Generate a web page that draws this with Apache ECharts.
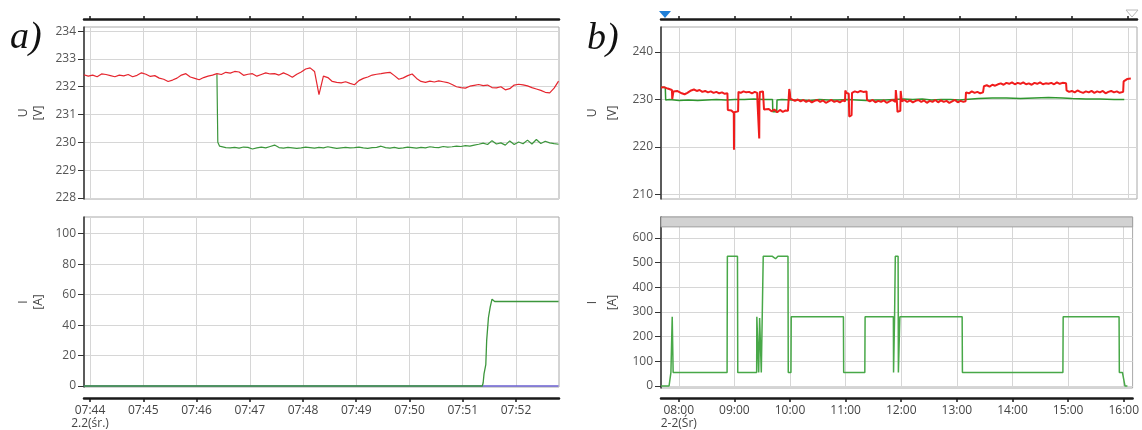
<!DOCTYPE html>
<html><head><meta charset="utf-8">
<script src="https://cdn.jsdelivr.net/npm/echarts@6/dist/echarts.min.js"></script>
<style>html,body{margin:0;padding:0;background:#fff}#c{width:1142px;height:430px}</style>
</head><body><div id="c"></div>
<script>
// ================= panel a) : 07:44 - 07:52, 2.2(śr.) =================
const aXTickLabels = ['07:44','07:45','07:46','07:47','07:48','07:49','07:50','07:51','07:52'];
const aXDateLabel = '2.2(śr.)';
const aXRange = ['07:43:53.2', '07:52:48.5'];
const aUTicks = [228, 229, 230, 231, 232, 233, 234];
const aUExtent = [227.96, 234.15];
const aITicks = [0, 20, 40, 60, 80, 100];
const aIExtent = [-0.65, 111];
const aStepSec = 5;
// voltage, red phase, sampled every 5 s from 07:43:53
const aRedStart = '07:43:53';
const aRed = [
 232.43,232.38,232.42,232.36,232.46,232.44,232.40,232.36,232.42,232.39,
 232.44,232.36,232.41,232.50,232.45,232.37,232.40,232.31,232.27,232.19,
 232.24,232.31,232.42,232.47,232.35,232.30,232.25,232.33,232.38,232.42,
 232.47,232.44,232.52,232.49,232.55,232.53,232.41,232.45,232.47,232.38,
 232.44,232.50,232.46,232.47,232.42,232.50,232.43,232.34,232.45,232.53,
 232.64,232.68,232.55,231.72,232.38,232.33,232.19,232.16,232.14,232.18,
 232.12,232.07,232.22,232.30,232.35,232.42,232.45,232.47,232.50,232.52,
 232.40,232.27,232.32,232.40,232.46,232.30,232.19,232.16,232.20,232.17,
 232.21,232.18,232.15,232.08,232.00,231.97,231.95,232.02,232.05,232.08,
 232.04,232.06,231.97,231.96,232.00,231.89,231.93,232.06,232.09,232.07,
 232.03,231.97,231.92,231.87,231.80,231.78,231.95,232.20
];
// voltage, green phase: drop then samples every 5 s from 07:46:28
const aGreenDrop = [['07:46:23', 232.45], ['07:46:24', 230.0], ['07:46:26', 229.86]];
const aGreenStart = '07:46:28';
const aGreen = [
 229.84,229.81,229.80,229.82,229.79,229.83,229.82,229.76,229.80,229.83,
 229.80,229.85,229.90,229.81,229.79,229.82,229.80,229.78,229.80,229.83,
 229.81,229.79,229.82,229.80,229.84,229.81,229.78,229.80,229.82,229.80,
 229.81,229.83,229.80,229.78,229.81,229.82,229.86,229.81,229.79,229.82,
 229.78,229.80,229.83,229.81,229.79,229.82,229.80,229.84,229.82,229.81,
 229.85,229.83,229.84,229.86,229.85,229.88,229.86,229.90,229.93,229.97,
 229.92,230.06,229.94,229.98,229.90,230.05,229.92,230.01,229.95,230.08,
 229.94,230.10,229.96,230.04,229.98,229.95,229.93
];
// current
const aCurrentGreen = [
 ['07:43:53',0],['07:51:22',0],['07:51:23',2],['07:51:24',8],['07:51:26',14],['07:51:27',30],
 ['07:51:29',45],['07:51:31',52],['07:51:33',57],['07:51:36',55.5],['07:52:48',55.5]
];
const aCurrentBlue = [['07:43:53',0],['07:52:48',0]];

// ================= panel b) : 08:00 - 16:00, 2-2(Śr) =================
const bXTickLabels = ['08:00','09:00','10:00','11:00','12:00','13:00','14:00','15:00','16:00'];
const bXDateLabel = '2-2(Śr)';
const bXRange = ['07:40:48', '16:09:36'];
const bUTicks = [210, 220, 230, 240];
const bUExtent = [209.05, 245.26];
const bITicks = [0, 100, 200, 300, 400, 500, 600];
const bIExtent = [-8, 684];
const bIBand = [644, 684];
// [minute of day, value]
const bRed = [
 [460.8,232.5],[462,232.3],[464,232.6],[466,232.4],[468,232.3],[470,232.1],[472.5,232.0],[472.8,230.1],[473.8,230.1],
 [474.1,231.7],[476,231.5],[478,231.8],[480,231.6],[483,231.3],[486,231.1],[489,231.4],[491,231.2],[493,231.9],
 [496,232.1],[499,231.8],[502,232.0],[505,231.6],[508,231.8],[511,231.5],[514,231.7],[517,231.4],[520,231.6],
 [523,231.3],[526,231.5],[529,231.2],[531.8,231.3],[532.2,227.8],[534,227.4],[536,227.7],[538.6,227.2],[538.8,219.4],
 [539.0,227.3],[541,227.6],[543.2,227.5],[543.6,231.6],[546,231.4],[549,231.7],[552,231.5],[555,231.6],[558,231.3],
 [561,231.6],[563.6,231.4],[563.9,229.6],[565.6,229.2],[565.8,221.8],[566.0,229.4],[566.5,231.6],[568,231.4],[569.8,231.7],
 [570.9,227.9],[573,227.6],[576,228.0],[579,227.5],[582,227.9],[585,227.3],[588,227.8],[591,227.4],[594,227.7],
 [596.5,227.6],[597.6,227.8],[597.9,232.2],[598.5,231.5],[599,230.2],[601,229.9],[604,229.7],[607,230.0],[610,229.6],
 [613,229.9],[616,229.5],[619,229.8],[622,229.4],[625,229.7],[628,229.9],[631,229.5],[634,229.8],[637,229.3],
 [640,229.6],[643,229.9],[646,229.5],[649,229.7],[652,229.4],[655,229.8],[657.5,229.6],[657.8,231.9],[659,231.4],
 [661.5,231.2],[662,226.4],[664.5,226.7],[665,231.4],[668,231.7],[671,231.5],[674,231.8],[677,231.6],[680.5,231.7],
 [681,229.9],[684,229.6],[687,229.9],[690,229.4],[693,229.7],[696,229.5],[699,229.8],[702,229.3],[705,229.6],
 [708,229.9],[711.5,229.5],[711.8,232.0],[712.8,230.0],[713.6,227.4],[716.6,227.6],[717,231.8],[718.2,229.6],[721,229.9],
 [724,229.5],[727,229.8],[730,229.4],[733,229.7],[736,229.9],[739,229.5],[742,229.8],[745,229.3],[748,229.7],
 [751,229.5],[754,229.9],[757,229.4],[760,229.8],[763,229.5],[766,229.7],[769,229.3],[772,229.6],[775,229.9],
 [778,229.4],[781,229.7],[784,229.5],[786.3,229.6],[786.8,231.5],[790,231.3],[793,231.7],[796,231.4],[799,231.6],
 [802,231.3],[805,231.5],[806,232.8],[809,233.0],[812,232.7],[815,233.1],[818,232.9],[821,233.2],[824,233.4],
 [827,233.1],[830,233.5],[833,233.3],[836,233.6],[839,233.2],[842,233.5],[845,233.3],[848,233.6],[851,233.2],
 [854,233.4],[857,233.1],[860,233.5],[863,233.3],[866,233.6],[869,233.2],[872,233.4],[875,233.3],[878,233.5],
 [881,233.2],[884,233.6],[887,233.3],[890,233.5],[893.8,233.4],[894.3,231.9],[897,231.6],[900,231.8],[903,231.5],
 [906,231.9],[909,231.6],[912,231.4],[915,231.7],[918,231.5],[921,231.8],[924,231.4],[927,231.7],[930,231.5],
 [933,231.8],[936,231.3],[939,231.6],[942,231.8],[945,231.5],[948,231.7],[951,231.4],[954.8,231.6],[955.3,233.8],
 [957,234.0],[959,234.3],[961,234.1],[963,234.4]
];
const bGreen = [
 [460.8,232.6],[465.4,232.5],[465.8,229.9],[470,230.0],[480,229.8],[490,229.9],[500,229.8],[510,229.9],[520,230.0],
 [530,229.9],[540,230.0],[550,230.0],[560,230.1],[570,230.0],[580,230.0],[580.3,227.4],[584.5,227.4],[584.8,229.9],
 [590,230.0],[600,229.9],[610,229.9],[620,229.8],[630,230.0],[640,229.9],[650,229.9],[660,230.0],[670,229.9],
 [680,229.8],[690,229.9],[700,229.9],[710,230.0],[720,230.1],[730,230.0],[740,230.1],[750,229.9],[760,230.0],
 [770,230.0],[780,229.9],[786,230.0],[787,230.3],[800,230.2],[815,230.3],[830,230.3],[845,230.2],[860,230.3],
 [875,230.4],[890,230.3],[900,230.2],[915,230.1],[930,230.1],[945,230.0],[956,230.0]
];
const bCurrent = [
 [460.8,0],[469.5,0],[471.5,55],[472.7,55],[472.9,280],[473.7,280],[473.9,55],[532.1,55],[532.4,525],[543.3,525],
 [543.6,55],[564.0,55],[564.2,280],[566.0,280],[566.2,55],[567.0,55],[567.2,275],[568.8,275],[569.0,55],[570.8,55],
 [571.1,525],[581,525],[584.4,515],[587,525],[597.8,525],[598.1,55],[601.0,55],[601.3,280],[657.6,280],[657.9,55],
 [680.7,55],[681.0,280],[711.5,280],[711.7,55],[712.6,55],[712.8,280],[713.4,280],[713.6,525],[716.6,525],[716.9,55],
 [718.2,55],[718.5,280],[785.7,280],[786.0,55],[894.4,55],[894.7,280],[955.0,280],[955.3,55],[958.6,55],[961.4,0],[964.0,0]
];

// ---------- helpers ----------
const hms = s => { const p = s.split(':').map(Number); return p[0]*3600 + p[1]*60 + (p[2] || 0); };
const pad = n => String(n).padStart(2, '0');
const aTickVals = aXTickLabels.map(hms);              // seconds of day
const bTickVals = bXTickLabels.map(s => hms(s) / 60); // minutes of day
const aRedData = aRed.map((v, i) => [hms(aRedStart) + i * aStepSec, v]);
const aGreenData = aGreenDrop.map(p => [hms(p[0]), p[1]])
  .concat(aGreen.map((v, i) => [hms(aGreenStart) + i * aStepSec, v]));
const aCurG = aCurrentGreen.map(p => [hms(p[0]), p[1]]);
const aCurB = aCurrentBlue.map(p => [hms(p[0]), p[1]]);

const FONT = 'Open Sans';
const gridLine = { show: true, lineStyle: { color: '#d6d6d6', width: 1 } };
const axisDark = { show: true, onZero: false, lineStyle: { color: '#1a1a1a', width: 2.5 } };

function xAxisDef(grid, pos, offset, range, ticks, withLabels, fmt) {
  return {
    gridIndex: grid, type: 'value', position: pos, offset: offset,
    min: range[0], max: range[1],
    axisLine: axisDark,
    axisTick: { show: true, customValues: ticks, length: pos === 'top' ? 3 : 4,
      lineStyle: { color: '#1a1a1a', width: 1.5 } },
    axisLabel: { show: withLabels, customValues: ticks, formatter: fmt, fontFamily: FONT,
      fontSize: 12, color: '#444', margin: 6, lineHeight: 13 },
    splitLine: gridLine
  };
}
function yAxisDef(grid, ext, ticks, name, lh, gap) {
  return {
    gridIndex: grid, type: 'value', min: ext[0], max: ext[1],
    axisLine: { show: true, onZero: false, lineStyle: { color: '#333', width: 1.5 } },
    axisTick: { show: true, customValues: ticks, length: 6, lineStyle: { color: '#333' } },
    axisLabel: { customValues: ticks, fontFamily: FONT, fontSize: 12, color: '#555', margin: 8 },
    splitLine: gridLine,
    name: name, nameLocation: 'middle', nameGap: gap, nameRotate: 90,
    nameTextStyle: { fontFamily: FONT, fontSize: 12, color: '#444', lineHeight: lh }
  };
}
const aFmt = v => {
  const s = pad(Math.floor(v / 3600)) + ':' + pad(Math.floor((v % 3600) / 60));
  return v === aTickVals[0] ? s + '\n' + aXDateLabel : s;
};
const bFmt = v => {
  const s = pad(Math.floor(v / 60)) + ':' + pad(Math.round(v % 60));
  return v === bTickVals[0] ? s + '\n' + bXDateLabel : s;
};

const gridBase = { show: true, borderColor: '#a8a8a8', borderWidth: 1, backgroundColor: '#fff' };
const line = (x, y, data, color, w, extra) => Object.assign({
  type: 'line', xAxisIndex: x, yAxisIndex: y, data: data, symbol: 'none', showSymbol: false,
  lineStyle: { color: color, width: w }, itemStyle: { color: color }, silent: true, animation: false
}, extra || {});

const option = {
  backgroundColor: '#fff',
  animation: false,
  grid: [
    Object.assign({ left: 84, top: 27, width: 475, height: 172 }, gridBase),
    Object.assign({ left: 84, top: 217, width: 475, height: 172 }, gridBase),
    Object.assign({ left: 661, top: 27, width: 476, height: 172 }, gridBase),
    Object.assign({ left: 661, top: 217, width: 476, height: 173 }, gridBase)
  ],
  xAxis: [
    xAxisDef(0, 'top', 8, aXRange.map(hms), aTickVals, false, aFmt),
    xAxisDef(1, 'bottom', 11, aXRange.map(hms), aTickVals, true, aFmt),
    xAxisDef(2, 'top', 8, bXRange.map(s => hms(s) / 60), bTickVals, false, bFmt),
    xAxisDef(3, 'bottom', 10, bXRange.map(s => hms(s) / 60), bTickVals, true, bFmt)
  ],
  yAxis: [
    yAxisDef(0, aUExtent, aUTicks, 'U\n[V]', 15, 38),
    yAxisDef(1, aIExtent, aITicks, 'I\n[A]', 15, 38),
    yAxisDef(2, bUExtent, bUTicks, 'U\n[V]', 20, 38),
    yAxisDef(3, bIExtent, bITicks, 'I\n[A]', 20, 38)
  ],
  series: [
    line(0, 0, aGreenData, '#3c963c', 1.2),
    line(0, 0, aRedData, '#e5262f', 1.2),
    line(1, 1, aCurB, '#6a5fd0', 1.5),
    line(1, 1, aCurG, '#3c963c', 1.3),
    line(2, 2, bGreen, '#2f962f', 1.5),
    line(2, 2, bRed, '#f01c1c', 2),
    line(3, 3, bCurrent, '#48a848', 1.5, {
      markArea: { silent: true, itemStyle: { color: '#d2d2d2', borderColor: '#a0a0a0', borderWidth: 1 },
        data: [[{ yAxis: bIBand[0] }, { yAxis: bIBand[1] }]] }
    })
  ],
  graphic: [
    { type: 'text', x: 10, y: 38, style: { text: 'a)', font: 'italic 38px "Liberation Serif"', fill: '#111', verticalAlign: 'middle' } },
    { type: 'text', x: 587, y: 39, style: { text: 'b)', font: 'italic 38px "Liberation Serif"', fill: '#111', verticalAlign: 'middle' } },
    { type: 'polygon', shape: { points: [[659, 11], [671, 11], [665, 18]] }, style: { fill: '#1f7fd8' } },
    { type: 'polygon', shape: { points: [[1126, 10], [1138, 10], [1132, 17]] }, style: { fill: '#fff', stroke: '#b8b8b8', lineWidth: 1 } }
  ]
};
const chart = echarts.init(document.getElementById('c'), null, { renderer: 'canvas' });
chart.setOption(option);
</script>
</body></html>
